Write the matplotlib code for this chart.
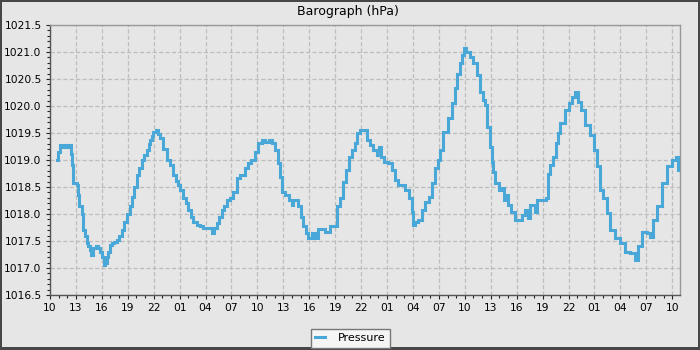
import matplotlib
matplotlib.use("Agg")
import matplotlib.pyplot as plt
from matplotlib.patches import Rectangle
from matplotlib.ticker import FixedLocator, MultipleLocator

# ---- data (hours since 10:00 on day 1, pressure in hPa) ----
hours = [
    0.78, 0.95, 1.2, 1.5, 1.8, 2.1, 2.3, 2.43, 2.6, 2.7, 3.09, 3.25, 3.39, 3.67, 3.85,
    4.05, 4.25, 4.45, 4.63, 4.8, 5.01, 5.3, 5.59, 5.8, 5.98, 6.2, 6.37, 6.6, 6.75, 7.0,
    7.14, 7.4, 7.72, 8.0, 8.3, 8.6, 8.88, 9.2, 9.46, 9.75, 10.03, 10.3, 10.61, 10.9,
    11.19, 11.4, 11.57, 11.8, 11.96, 12.27, 12.5, 12.73, 13.1, 13.5, 13.9, 14.27, 14.6,
    14.85, 15.1, 15.43, 15.7, 16.0, 16.3, 16.59, 17.0, 17.36, 17.7, 18.14, 18.4, 18.72,
    19.0, 19.29, 19.6, 19.87, 20.15, 20.45, 20.8, 21.2, 21.6, 22.0, 22.6, 22.95, 23.3,
    23.7, 24.1, 24.5, 24.9, 25.3, 25.65, 26.0, 26.4, 26.6, 26.9, 27.2, 27.6, 28.0, 28.1,
    28.4, 28.7, 29.0, 29.3, 29.6, 29.9, 30.3, 30.7, 31.05, 31.8, 32.4, 33.0, 33.2, 33.6,
    33.9, 34.3, 34.65, 34.9, 35.3, 35.5, 35.9, 36.3, 36.65, 37.0, 37.4, 37.8, 38.1, 38.3,
    38.6, 39.15, 39.55, 39.9, 40.3, 40.7, 41.1, 41.5, 41.9, 42.05, 42.25, 42.6, 43.0,
    43.4, 43.8, 44.2, 44.6, 44.95, 45.1, 45.5, 46.1, 46.5, 46.9, 47.15, 47.4, 47.65,
    47.85, 48.15, 48.6, 49.0, 49.4, 49.8, 50.1, 50.35, 50.6, 50.9, 51.1, 51.3, 51.5,
    51.9, 52.3, 52.5, 52.8, 53.05, 53.4, 53.8, 54.2, 54.6, 55.0, 55.35, 55.55, 55.9,
    56.1, 56.4, 56.7, 57.1, 57.4, 57.6, 57.65, 57.9, 58.25, 58.55, 58.8, 59.0, 59.6,
    60.0, 60.4, 60.8, 61.1, 61.5, 61.9, 62.5, 62.9, 63.3, 63.7, 64.0, 64.4, 64.8, 65.4,
    66.0, 66.55, 67.1, 67.7, 68.0, 68.5, 69.05, 69.4, 69.8, 70.2, 70.8, 71.4, 71.95,
    72.45, 72.7, 72.85,
]
pressure = [
    1019.00, 1019.15, 1019.28, 1019.25, 1019.28, 1019.25, 1019.28, 1019.12, 1018.90,
    1018.57, 1018.54, 1018.35, 1018.14, 1018.00, 1017.70, 1017.60, 1017.46, 1017.40,
    1017.33, 1017.25, 1017.37, 1017.40, 1017.37, 1017.30, 1017.20, 1017.06, 1017.10,
    1017.20, 1017.30, 1017.42, 1017.46, 1017.48, 1017.52, 1017.60, 1017.70, 1017.85,
    1018.00, 1018.15, 1018.32, 1018.50, 1018.72, 1018.85, 1019.00, 1019.10, 1019.19,
    1019.30, 1019.37, 1019.45, 1019.52, 1019.56, 1019.48, 1019.40, 1019.20, 1019.00,
    1018.90, 1018.72, 1018.62, 1018.54, 1018.45, 1018.30, 1018.20, 1018.07, 1017.95,
    1017.86, 1017.80, 1017.77, 1017.75, 1017.74, 1017.75, 1017.64, 1017.75, 1017.83,
    1017.95, 1018.07, 1018.15, 1018.26, 1018.30, 1018.41, 1018.66, 1018.72, 1018.85,
    1018.94, 1019.00, 1019.15, 1019.31, 1019.37, 1019.34, 1019.37, 1019.31, 1019.19,
    1018.94, 1018.69, 1018.41, 1018.35, 1018.26, 1018.17, 1018.26, 1018.26, 1018.14,
    1017.95, 1017.77, 1017.64, 1017.55, 1017.64, 1017.55, 1017.73, 1017.67, 1017.77,
    1017.77, 1018.14, 1018.29, 1018.60, 1018.81, 1019.06, 1019.19, 1019.31, 1019.50,
    1019.56, 1019.56, 1019.37, 1019.28, 1019.19, 1019.09, 1019.25, 1019.05, 1018.97,
    1018.94, 1018.81, 1018.63, 1018.54, 1018.54, 1018.44, 1018.29, 1018.04, 1017.80,
    1017.86, 1017.89, 1018.07, 1018.23, 1018.32, 1018.57, 1018.85, 1019.00, 1019.19,
    1019.52, 1019.77, 1020.05, 1020.33, 1020.60, 1020.79, 1020.94, 1021.07, 1021.00,
    1020.91, 1020.79, 1020.57, 1020.26, 1020.11, 1020.02, 1019.62, 1019.25, 1018.97,
    1018.78, 1018.57, 1018.44, 1018.48, 1018.26, 1018.35, 1018.17, 1018.04, 1017.89,
    1017.89, 1017.98, 1018.07, 1017.92, 1018.17, 1018.17, 1018.04, 1018.26, 1018.26,
    1018.26, 1018.29, 1018.51, 1018.75, 1018.91, 1019.06, 1019.31, 1019.50, 1019.68,
    1019.93, 1020.05, 1020.17, 1020.26, 1020.08, 1019.93, 1019.65, 1019.46, 1019.19,
    1018.88, 1018.44, 1018.29, 1018.01, 1017.70, 1017.55, 1017.46, 1017.30, 1017.27,
    1017.15, 1017.40, 1017.67, 1017.64, 1017.58, 1017.89, 1018.14, 1018.57, 1018.88,
    1019.00, 1019.06, 1018.81, 1018.81,
]
tick_hours = list(range(0, 73, 3))
tick_labels = ["10", "13", "16", "19", "22", "01", "04", "07",
               "10", "13", "16", "19", "22", "01", "04", "07",
               "10", "13", "16", "19", "22", "01", "04", "07", "10"]
y_ticks = [1016.5, 1017.0, 1017.5, 1018.0, 1018.5, 1019.0, 1019.5,
           1020.0, 1020.5, 1021.0, 1021.5]

plt.rcParams['font.family'] = ['DejaVu Sans']
plt.rcParams['lines.scale_dashes'] = False

W, H = 700, 350
fig = plt.figure(figsize=(7, 3.5), dpi=100)
fig.patch.set_facecolor('#474747')
fig.add_artist(Rectangle((2 / W, 3 / H), 696 / W, 345 / H, transform=fig.transFigure,
                         facecolor='#e6e6e6', edgecolor='none', zorder=-10))

ax = fig.add_axes([50 / W, 1 - 295 / H, 630 / W, 270 / H])
ax.set_facecolor('#e6e6e6')

ax.plot(hours, pressure, color='#4aa8d8', lw=2.2, drawstyle='steps-post',
        solid_joinstyle='miter', label='Pressure', zorder=3)

ax.set_xlim(0, 72.9)
ax.set_ylim(1016.5, 1021.5)
ax.xaxis.set_major_locator(FixedLocator(tick_hours))
ax.set_xticklabels(tick_labels)
ax.xaxis.set_minor_locator(MultipleLocator(1))
ax.yaxis.set_major_locator(FixedLocator(y_ticks))
ax.set_yticklabels([f"{v:.1f}" for v in y_ticks])
ax.yaxis.set_minor_locator(MultipleLocator(0.1))

ax.tick_params(axis='both', which='major', length=3, width=0.8, color='#222222',
               labelsize=7.7, labelcolor='black', direction='out')
ax.tick_params(axis='both', which='minor', length=2.2, width=0.8, color='#222222',
               direction='out')
ax.tick_params(axis='x', which='major', pad=3)
ax.tick_params(axis='y', which='major', pad=3)

ax.grid(True, which='major', color='#bdbdbd', linestyle=(0, (3, 1.6)), lw=0.9)
ax.set_axisbelow(True)

for side in ['left', 'bottom']:
    ax.spines[side].set_color('#555555')
    ax.spines[side].set_linewidth(1.0)
for side in ['top', 'right']:
    ax.spines[side].set_color('#999999')
    ax.spines[side].set_linewidth(1.0)

fig.text(0.497, 1 - 12 / H, 'Barograph (hPa)', ha='center', va='center',
         fontsize=9, color='black')

leg = fig.legend(loc='lower center', bbox_to_anchor=(350.5 / W, 2.5 / H),
                 fontsize=8, frameon=True, fancybox=False, handlelength=0.9,
                 handletextpad=1.2, borderpad=0.4, borderaxespad=0)
leg.get_frame().set_facecolor('#f5f5f5')
leg.get_frame().set_edgecolor('#777777')
leg.get_frame().set_linewidth(1.0)
leg.get_frame().set_alpha(1)

fig.savefig('out.png', dpi=100, facecolor=fig.get_facecolor())
